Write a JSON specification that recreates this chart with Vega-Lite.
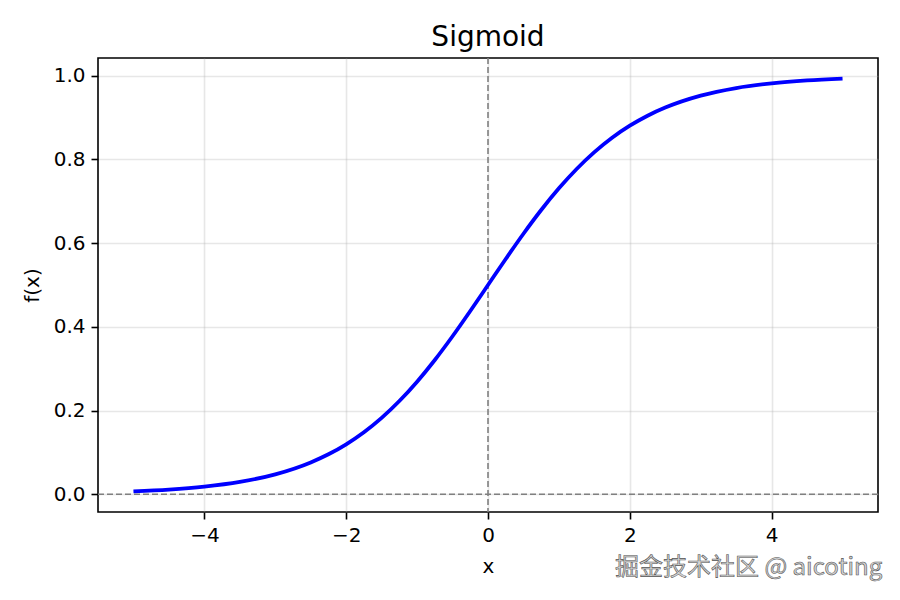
{
  "$schema": "https://vega.github.io/schema/vega-lite/v6.json",
  "width": 780,
  "height": 454,
  "autosize": {"type": "none"},
  "padding": {"left": 98, "top": 58, "right": 22, "bottom": 88},
  "background": "white",
  "title": {"text": "Sigmoid", "font": "DejaVu Sans", "fontSize": 28, "fontWeight": "normal", "color": "#000", "offset": 5},
  "config": {
    "view": {"stroke": "#000", "strokeWidth": 1.6},
    "axis": {
      "domain": false,
      "grid": true,
      "gridColor": "#b0b0b0",
      "gridOpacity": 0.3,
      "gridWidth": 1.6,
      "tickColor": "#000",
      "tickSize": 7,
      "tickWidth": 1.6,
      "labelFont": "DejaVu Sans",
      "labelFontSize": 20,
      "labelColor": "#000",
      "labelPadding": 6,
      "titleFont": "DejaVu Sans",
      "titleFontSize": 20,
      "titleFontWeight": "normal",
      "titleColor": "#000"
    }
  },
  "datasets": {
    "curve": [
      {"x": -5.0, "y": 0.0067},
      {"x": -4.5, "y": 0.0110},
      {"x": -4.0, "y": 0.0180},
      {"x": -3.5, "y": 0.0293},
      {"x": -3.0, "y": 0.0474},
      {"x": -2.5, "y": 0.0759},
      {"x": -2.25, "y": 0.0953},
      {"x": -2.0, "y": 0.1192},
      {"x": -1.75, "y": 0.1480},
      {"x": -1.5, "y": 0.1824},
      {"x": -1.25, "y": 0.2227},
      {"x": -1.0, "y": 0.2689},
      {"x": -0.75, "y": 0.3208},
      {"x": -0.5, "y": 0.3775},
      {"x": -0.25, "y": 0.4378},
      {"x": 0.0, "y": 0.5},
      {"x": 0.25, "y": 0.5622},
      {"x": 0.5, "y": 0.6225},
      {"x": 0.75, "y": 0.6792},
      {"x": 1.0, "y": 0.7311},
      {"x": 1.25, "y": 0.7773},
      {"x": 1.5, "y": 0.8176},
      {"x": 1.75, "y": 0.8520},
      {"x": 2.0, "y": 0.8808},
      {"x": 2.25, "y": 0.9047},
      {"x": 2.5, "y": 0.9241},
      {"x": 3.0, "y": 0.9526},
      {"x": 3.5, "y": 0.9707},
      {"x": 4.0, "y": 0.9820},
      {"x": 4.5, "y": 0.9890},
      {"x": 5.0, "y": 0.9933}
    ],
    "watermark": [
      {"x": 5.56, "y": -0.176, "label": "掘金技术社区 @ aicoting"}
    ]
  },
  "layer": [
    {
      "data": {"values": [{}]},
      "mark": {"type": "rule", "color": "#808080", "strokeWidth": 1.6, "strokeDash": [6, 3]},
      "encoding": {"x": {"datum": 0, "type": "quantitative"}}
    },
    {
      "data": {"values": [{}]},
      "mark": {"type": "rule", "color": "#808080", "strokeWidth": 1.6, "strokeDash": [6, 3]},
      "encoding": {"y": {"datum": 0, "type": "quantitative"}}
    },
    {
      "data": {"name": "curve"},
      "mark": {"type": "line", "color": "#0000ff", "strokeWidth": 3.8, "interpolate": "monotone"},
      "encoding": {
        "x": {"field": "x", "type": "quantitative", "scale": {"domain": [-5.5, 5.5], "nice": false, "zero": false},
              "axis": {"title": "x", "values": [-4, -2, 0, 2, 4], "format": "d", "titlePadding": 11}},
        "y": {"field": "y", "type": "quantitative", "scale": {"domain": [-0.0426, 1.0426], "nice": false, "zero": false},
              "axis": {"title": "f(x)", "values": [0, 0.2, 0.4, 0.6, 0.8, 1.0], "format": ".1f", "titlePadding": 11}}
      }
    },
    {
      "data": {"name": "watermark"},
      "mark": {"type": "text", "align": "right", "baseline": "middle", "font": "Noto Sans CJK SC", "fontSize": 24, "fill": "#d4d4d4", "stroke": "#555", "strokeWidth": 0.6, "clip": false},
      "encoding": {
        "x": {"field": "x", "type": "quantitative"},
        "y": {"field": "y", "type": "quantitative"},
        "text": {"field": "label"}
      }
    }
  ]
}
